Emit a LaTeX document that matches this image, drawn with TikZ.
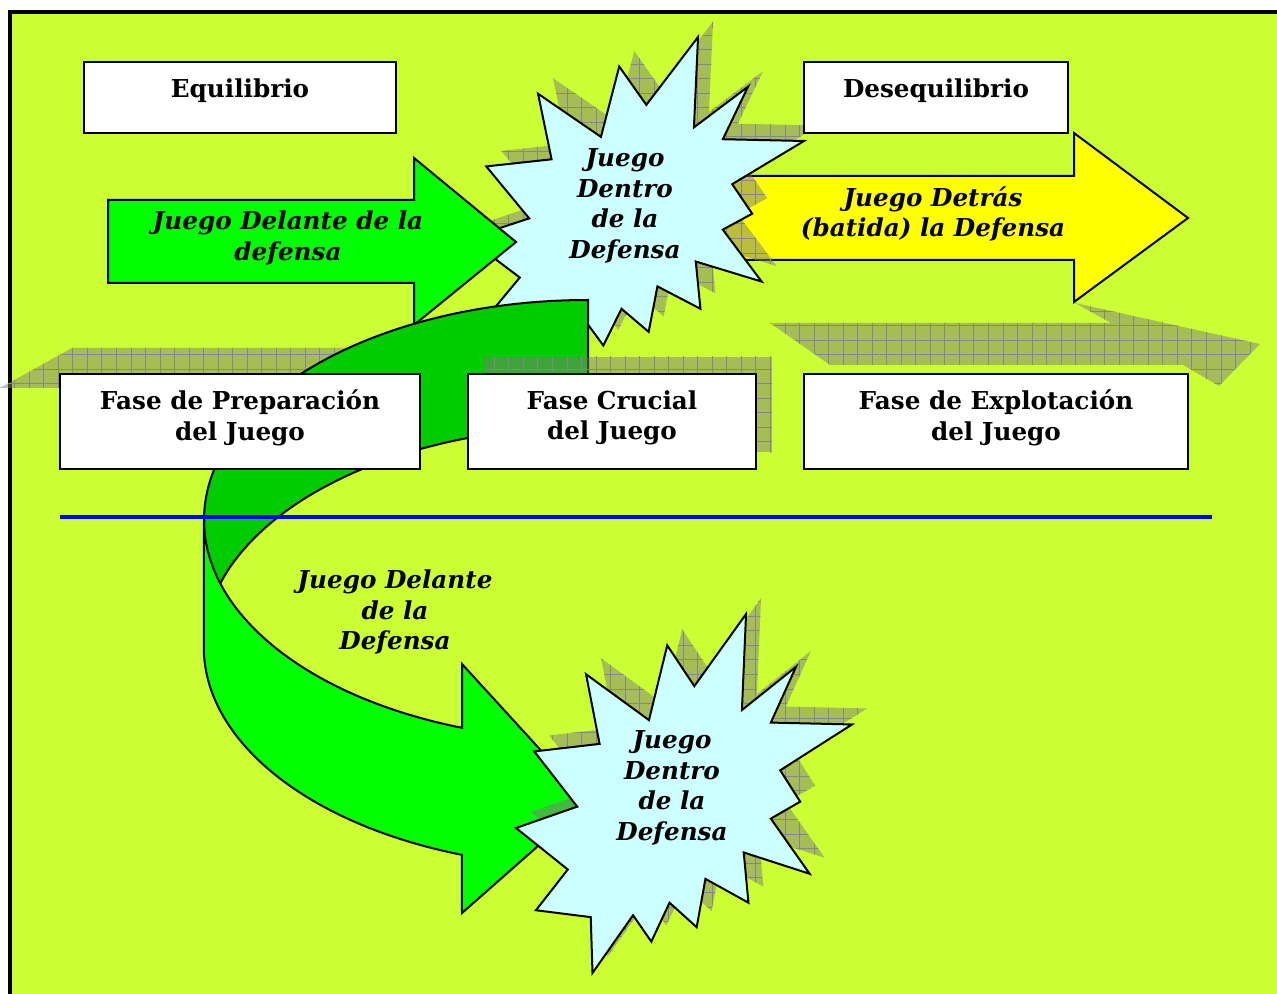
\documentclass[tikz,border=0pt]{standalone}
\usepackage{fontspec}
\setmainfont{DejaVu Serif}
\usetikzlibrary{patterns.meta}
\definecolor{bgc}{RGB}{204,255,51}
\definecolor{brightgreen}{RGB}{0,255,0}
\definecolor{darkgreen}{RGB}{0,204,0}
\definecolor{lightcyan}{RGB}{204,255,255}
\definecolor{yellowc}{RGB}{255,255,0}
\definecolor{shadowc}{RGB}{125,125,120}
\definecolor{gridc}{RGB}{135,132,145}
\definecolor{bluel}{RGB}{0,0,255}
\tikzset{
  burstshape/.style={insert path={(114.64,43.40) -- (97.22,18.87) -- (85.48,63.83) -- (45.03,36.26) -- (53.73,78.16) -- (11.74,82.70) -- (39.34,115.92) -- (0,128.75) -- (33.29,153.72) -- (12.83,178.24) -- (48.04,182.39) -- (49.18,216) -- (75.25,181.25) -- (86.98,197.12) -- (98.71,173.71) -- (116.14,188.44) -- (121.78,159.37) -- (149.43,173.71) -- (146.40,143.48) -- (188.78,156.32) -- (163.82,123.11) -- (182.70,112.92) -- (169.86,94.04) -- (216,66.46) -- (163.82,65.33) -- (180.05,31.72) -- (145.24,57.78) -- (147.89,0) -- cycle}},
  shadowfill/.style={fill=shadowc, fill opacity=0.5},
  shadowgrid/.style={pattern={Hatch[distance=10.9pt,angle=0,line width=0.4pt]}, pattern color=gridc},
  outl/.style={draw=black, line width=1.5pt, line join=miter},
  box/.style={draw=black, line width=1.6pt, fill=white, inner sep=0pt, outer sep=0pt},
  boxtext/.style={font=\fontsize{18.5pt}{22.9pt}\selectfont\bfseries, align=center, inner sep=0pt},
  ittext/.style={font=\fontsize{18.5pt}{22.9pt}\selectfont\bfseries\itshape, align=center, inner sep=0pt},
}
\begin{document}
\begin{tikzpicture}[x=0.75pt,y=-0.75pt]
\useasboundingbox (0,0) rectangle (1277,994);
\clip (0,0) rectangle (1277,994);
\fill[white] (0,0) rectangle (1277,994);
\fill[bgc] (10,11.8) rectangle (1300,1020);
\draw[line width=2.6pt] (9.8,1020) -- (9.8,11.8) -- (1300,11.8);
% perspective shadows of the straight arrows
\path[shadowfill] (0,388) -- (72,348) -- (430,348) -- (430,388) -- cycle;
\path[shadowgrid] (0,388) -- (72,348) -- (430,348) -- (430,388) -- cycle;
\path[shadowfill] (770,323) -- (1111,323) -- (1075,303) -- (1260,344) -- (1219,386) -- (1183,365) -- (830,365) -- cycle;
\path[shadowgrid] (770,323) -- (1111,323) -- (1075,303) -- (1260,344) -- (1219,386) -- (1183,365) -- (830,365) -- cycle;
% yellow arrow
\draw[outl, fill=yellowc] (715,176) -- (1074,176) -- (1074,133) -- (1188,218) -- (1074,302) -- (1074,260) -- (715,260) -- cycle;
% top starburst
\begin{scope}[shift={(483,21.5)}, xscale=336/216, yscale=338/216]
  \path[shadowfill, burstshape];
  \path[shadowgrid, burstshape];
\end{scope}
\begin{scope}[shift={(468,37)}, xscale=336/216, yscale=338/216]
  \path[outl, fill=lightcyan, burstshape];
\end{scope}
% green straight arrow
\draw[outl, fill=brightgreen] (108,200) -- (414,200) -- (414,158) -- (516,242) -- (414,325) -- (414,283) -- (108,283) -- cycle;
% curved arrow: back part
\draw[outl, fill=darkgreen] (588,300) arc[start angle=-90, end angle=-180, x radius=384, y radius=220] -- (204,647) arc[start angle=180, end angle=270, x radius=384, y radius=220] -- cycle;
% curved arrow: front part
\draw[outl, fill=brightgreen] (204,520) arc[start angle=180, end angle=109.15, x radius=384, y radius=220] -- (462,664) -- (588,802) -- (462,913) -- (461.8,854.8) arc[start angle=109.15, end angle=180, x radius=384, y radius=220] -- cycle;
% shadow of the Fase Crucial box
\path[shadowfill] (484,357) rectangle (772,452);
\path[shadowgrid] (484,357) rectangle (772,452);
% boxes
\node[box, minimum width=234pt, minimum height=53.25pt] (eqbox) at (240,97.5) {};
\node[box, minimum width=198pt, minimum height=53.25pt] (deseqbox) at (936,97.5) {};
\node[box, minimum width=270pt, minimum height=71.25pt] (prepbox) at (240,421.5) {};
\node[box, minimum width=216pt, minimum height=71.25pt] (crucbox) at (612,421.5) {};
\node[box, minimum width=288pt, minimum height=71.25pt] (explbox) at (996,421.5) {};
% blue separator
\coordinate (bl) at (60,517);
\coordinate (br) at (1212,517);
\draw[bluel, line width=3pt] (bl) -- (br);
% bottom starburst
\begin{scope}[shift={(531,598)}, xscale=336/216, yscale=359/216]
  \path[shadowfill, burstshape];
  \path[shadowgrid, burstshape];
\end{scope}
\begin{scope}[shift={(516,614)}, xscale=336/216, yscale=359/216]
  \path[outl, fill=lightcyan, burstshape];
\end{scope}
% texts
\node[boxtext] (eqt) at (240,90.5) {Equilibrio};
\node[boxtext] (deseqt) at (936,90.5) {Desequilibrio};
\node[boxtext] (prept) at (240,418) {Fase de Preparación\\del Juego};
\node[boxtext] (tcruc) at (612,418) {Fase Crucial\\del Juego};
\node[boxtext] (explt) at (996,418) {Fase de Explotación\\del Juego};
\node[ittext] (greent) at (288,238) {Juego Delante de la\\defensa};
\node[ittext] (burst1t) at (625,206) {Juego\\Dentro\\de la\\Defensa};
\node[ittext] (yellowt) at (933,214) {Juego Detrás\\(batida) la Defensa};
\node[ittext] (curvet) at (395,612) {Juego Delante\\de la\\Defensa};
\node[ittext] (burst2t) at (672,788) {Juego\\Dentro\\de la\\Defensa};
\end{tikzpicture}
\end{document}
